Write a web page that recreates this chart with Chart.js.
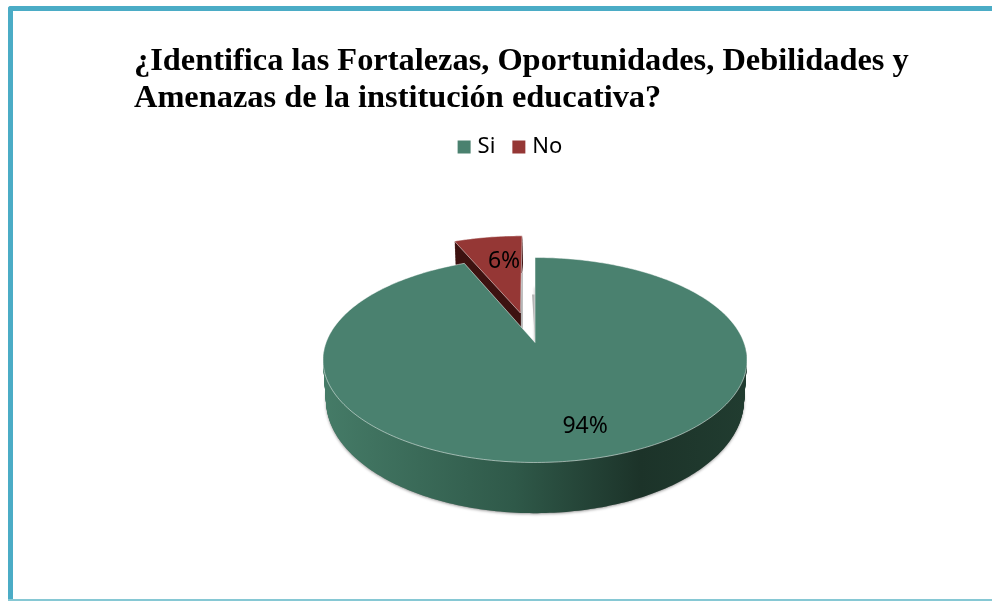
<!DOCTYPE html>
<html>
<head>
<meta charset="utf-8">
<title>Fortalezas</title>
<script src="https://cdn.jsdelivr.net/npm/chart.js@4/dist/chart.umd.min.js"></script>
<style>
  html, body { margin: 0; padding: 0; background: #fff; overflow: hidden; }
  #frame {
    position: absolute; left: 8px; top: 6px; width: 990px; height: 594px;
    box-sizing: border-box; background: #fff;
    border: 5px solid #4bacc6; border-right: 0; border-bottom: 0; border-radius: 3px 0 0 0;
  }
  #line { position: absolute; left: 8px; top: 599px; width: 984px; height: 2px; background: #86c8d4; }
  canvas { position: absolute; left: 0; top: 0; }
</style>
</head>
<body>
<div id="frame"></div>
<div id="line"></div>
<canvas id="chart" width="992" height="601"></canvas>
<script>
const titleLines = ['¿Identifica las Fortalezas, Oportunidades, Debilidades y', 'Amenazas de la institución educativa?'];
const categories = ['Si', 'No'];
const values = [93.6, 6.4];
const explode = [0, 48];
const topColors = ['#4a816f', '#953735'];

// tilted disc: perspective projection of the pie, top face and bottom face
const tilt = { shiftX: 23, persp: -0.1707, a: [208.9, 206], b: [99.5, 110], depth: 38 };
const sliceShiftX = [0, -2];
const labelNudge = [[16, 4], [8, 5]];

function project(el, i, angle, radius, t) {
  const off = el.options.offset / el.outerRadius;
  const mid = (el.startAngle + el.endAngle) / 2;
  const u = radius * Math.cos(angle) + off * Math.cos(mid);
  const v = radius * Math.sin(angle) + off * Math.sin(mid);
  const w = 1 + tilt.persp * v;
  const a = tilt.a[0] + (tilt.a[1] - tilt.a[0]) * t;
  const b = tilt.b[0] + (tilt.b[1] - tilt.b[0]) * t;
  return [el.x + tilt.shiftX + sliceShiftX[i] + a * u / w, el.y + t * tilt.depth + b * v / w];
}

function wedgePath(ctx, el, i, t) {
  ctx.beginPath();
  ctx.moveTo(...project(el, i, el.startAngle, 0, t));
  const steps = Math.ceil((el.endAngle - el.startAngle) * 60);
  for (let s = 0; s <= steps; s++) {
    ctx.lineTo(...project(el, i, el.startAngle + (el.endAngle - el.startAngle) * s / steps, 1, t));
  }
  ctx.closePath();
}

const tiltedPie = {
  id: 'tiltedPie',
  // title is wider than the area the legend is centred on, don't let it get squeezed
  afterLayout(chart) {
    chart.titleBlock.right = chart.width;
  },
  beforeDatasetsDraw(chart) {
    const ctx = chart.ctx;
    const arcs = chart.getDatasetMeta(0).data;
    const side = ctx.createLinearGradient(325, 0, 745, 0);
    side.addColorStop(0, '#457b67');
    side.addColorStop(0.45, '#2f5949');
    side.addColorStop(0.75, '#1c3329');
    side.addColorStop(1, '#213c30');
    const sideFill = [side, '#3d1210'];

    ctx.save();
    // soft grey shadow under the bottom edge
    ctx.save();
    ctx.shadowColor = 'rgba(0,0,0,0.4)';
    ctx.shadowBlur = 3;
    ctx.shadowOffsetY = 1;
    ctx.fillStyle = '#888';
    wedgePath(ctx, arcs[0], 0, 1);
    ctx.fill();
    ctx.restore();

    // red slice sits behind the green one
    [1, 0].forEach((i) => {
      const el = arcs[i];
      ctx.fillStyle = sideFill[i];
      for (let t = 1; t > 0; t -= 0.02) {
        wedgePath(ctx, el, i, t);
        ctx.fill();
      }
      // grey walls beside the gap
      ctx.fillStyle = '#b4b4b4';
      ctx.beginPath();
      if (i === 0) {
        const p = project(el, i, el.startAngle, 0, 0);
        ctx.moveTo(p[0], p[1]);
        ctx.lineTo(p[0] - 3, p[1] - 48);
        ctx.lineTo(p[0], p[1] - 48);
      } else {
        const p = project(el, i, el.endAngle, 0, 0);
        ctx.moveTo(p[0] + 0.5, p[1] + 18);
        ctx.lineTo(p[0] + 2.5, p[1] + 18);
        ctx.lineTo(p[0] + 2.5, p[1] - 40);
        ctx.lineTo(p[0] + 0.5, p[1] - 40);
      }
      ctx.fill();

      wedgePath(ctx, el, i, 0);
      ctx.fillStyle = topColors[i];
      ctx.fill();
      ctx.strokeStyle = 'rgba(255,255,255,0.5)';
      ctx.lineWidth = 1;
      ctx.stroke();
    });
    ctx.restore();

    // percent labels on the top face
    ctx.save();
    ctx.fillStyle = '#000';
    ctx.font = "23px 'Noto Sans'";
    ctx.textAlign = 'center';
    ctx.textBaseline = 'middle';
    arcs.forEach((el, i) => {
      const p = project(el, i, (el.startAngle + el.endAngle) / 2, 0.72, 0);
      ctx.fillText(Math.round(values[i]) + '%', p[0] + labelNudge[i][0], p[1] + labelNudge[i][1]);
    });
    ctx.restore();
    return false;
  }
};

new Chart(document.getElementById('chart'), {
  type: 'pie',
  data: {
    labels: categories,
    datasets: [{ data: values, backgroundColor: topColors, offset: explode, borderWidth: 0 }]
  },
  plugins: [tiltedPie],
  options: {
    responsive: false,
    animation: false,
    layout: { padding: { left: 134, right: 102, top: 43, bottom: 84 } },
    plugins: {
      tooltip: { enabled: false },
      title: {
        display: true,
        text: titleLines,
        align: 'start',
        color: '#000',
        font: { family: "'Liberation Serif'", size: 32.4, weight: 'bold', lineHeight: 1.142 },
        padding: { top: 0, bottom: -2 }
      },
      legend: {
        position: 'top',
        labels: {
          font: { family: "'Noto Sans'", size: 22 },
          color: '#000',
          usePointStyle: true,
          pointStyle: 'rect',
          boxWidth: 5,
          boxHeight: 13,
          padding: 21
        }
      }
    }
  }
});
</script>
</body>
</html>
